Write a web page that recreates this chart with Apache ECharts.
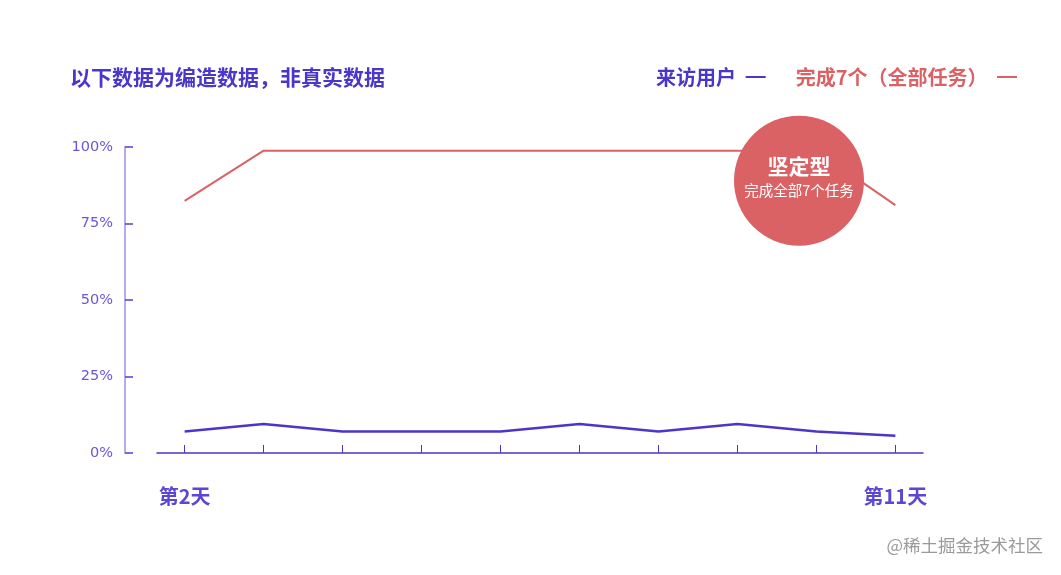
<!DOCTYPE html>
<html>
<head>
<meta charset="utf-8">
<script src="https://cdn.jsdelivr.net/npm/echarts@6/dist/echarts.min.js"></script>
<style>
  html, body { margin: 0; padding: 0; background: #fff; }
  #main { width: 1061px; height: 575px; }
</style>
</head>
<body>
<div id="main"></div>
<script>
// 数据
var days = ['第2天', '第3天', '第4天', '第5天', '第6天', '第7天', '第8天', '第9天', '第10天', '第11天'];
var visitors = [7, 9.5, 7, 7, 7, 9.5, 7, 9.5, 7, 5.6];
var finishedAll = [82.4, 98.8, 98.8, 98.8, 98.8, 98.8, 98.8, 98.8, 98.8, 81];
var yTicks = [0, 25, 50, 75, 100];

var blue = '#4a36c9';
var red = '#da6164';
var font = 'Noto Sans CJK SC';

function pairs(arr) {
  return arr.map(function (v, i) { return [i, v]; });
}

var myChart = echarts.init(document.getElementById('main'));

var option = {
  animation: false,
  title: [{
    text: '以下数据为编造数据，非真实数据',
    left: 70,
    top: 67,
    padding: 0,
    textStyle: { color: blue, fontSize: 21, fontWeight: 'bold', fontFamily: font }
  }, {
    text: '@稀土掘金技术社区',
    right: 18,
    top: 537,
    padding: 0,
    textStyle: { color: '#9a9a9a', fontSize: 17.5, fontWeight: 'normal', fontFamily: font }
  }],
  legend: {
    right: 44,
    top: 67,
    padding: 0,
    align: 'right',
    icon: 'rect',
    itemWidth: 20,
    itemHeight: 2,
    itemGap: 30,
    formatter: function (name) { return name + ' '; },
    textStyle: { fontSize: 20, fontWeight: 'bold', fontFamily: font },
    data: [
      { name: '来访用户', textStyle: { color: blue } },
      { name: '完成7个（全部任务）', textStyle: { color: red } }
    ]
  },
  grid: {
    left: 157,
    right: 138,
    top: 147,
    bottom: 122
  },
  xAxis: {
    type: 'value',
    min: -0.35,
    max: days.length - 0.65,
    splitLine: { show: false },
    axisLine: { lineStyle: { color: blue, width: 1.5 } },
    axisTick: {
      inside: true,
      length: 8,
      lineStyle: { color: blue, width: 1 },
      customValues: days.map(function (d, i) { return i; })
    },
    axisLabel: {
      margin: 33,
      color: '#5b47d3',
      fontSize: 20,
      fontWeight: 'bold',
      fontFamily: font,
      customValues: [0, days.length - 1],
      formatter: function (v) { return days[Math.round(v)]; }
    }
  },
  yAxis: {
    type: 'value',
    min: 0,
    max: 100,
    interval: 25,
    offset: 32,
    splitLine: { show: false },
    axisLine: { show: true, onZero: false, lineStyle: { color: '#9c90ea', width: 1.5 } },
    axisTick: {
      show: true,
      inside: true,
      length: 8,
      lineStyle: { color: '#5140cc', width: 1.5 },
      customValues: yTicks
    },
    axisLabel: {
      margin: 12,
      color: '#6a57d8',
      fontSize: 14.5,
      fontFamily: 'DejaVu Sans',
      customValues: yTicks,
      formatter: '{value}%'
    }
  },
  series: [{
    name: '来访用户',
    type: 'line',
    symbol: 'none',
    color: blue,
    lineStyle: { width: 2.5, color: blue },
    data: pairs(visitors)
  }, {
    name: '完成7个（全部任务）',
    type: 'line',
    symbol: 'none',
    color: red,
    lineStyle: { width: 2, color: red },
    data: pairs(finishedAll),
    markPoint: {
      symbol: 'circle',
      symbolSize: 130,
      itemStyle: { color: red },
      label: {
        show: true,
        position: 'inside',
        offset: [0, -5],
        formatter: '{a|坚定型}\n{b|完成全部7个任务}',
        rich: {
          a: { color: '#fff', fontSize: 21, fontWeight: 'bold', fontFamily: font, lineHeight: 30 },
          b: { color: '#fff', fontSize: 14.5, fontFamily: font, lineHeight: 20 }
        }
      },
      data: [{ coord: [7.78, 89] }]
    }
  }]
};

myChart.setOption(option);
</script>
</body>
</html>
